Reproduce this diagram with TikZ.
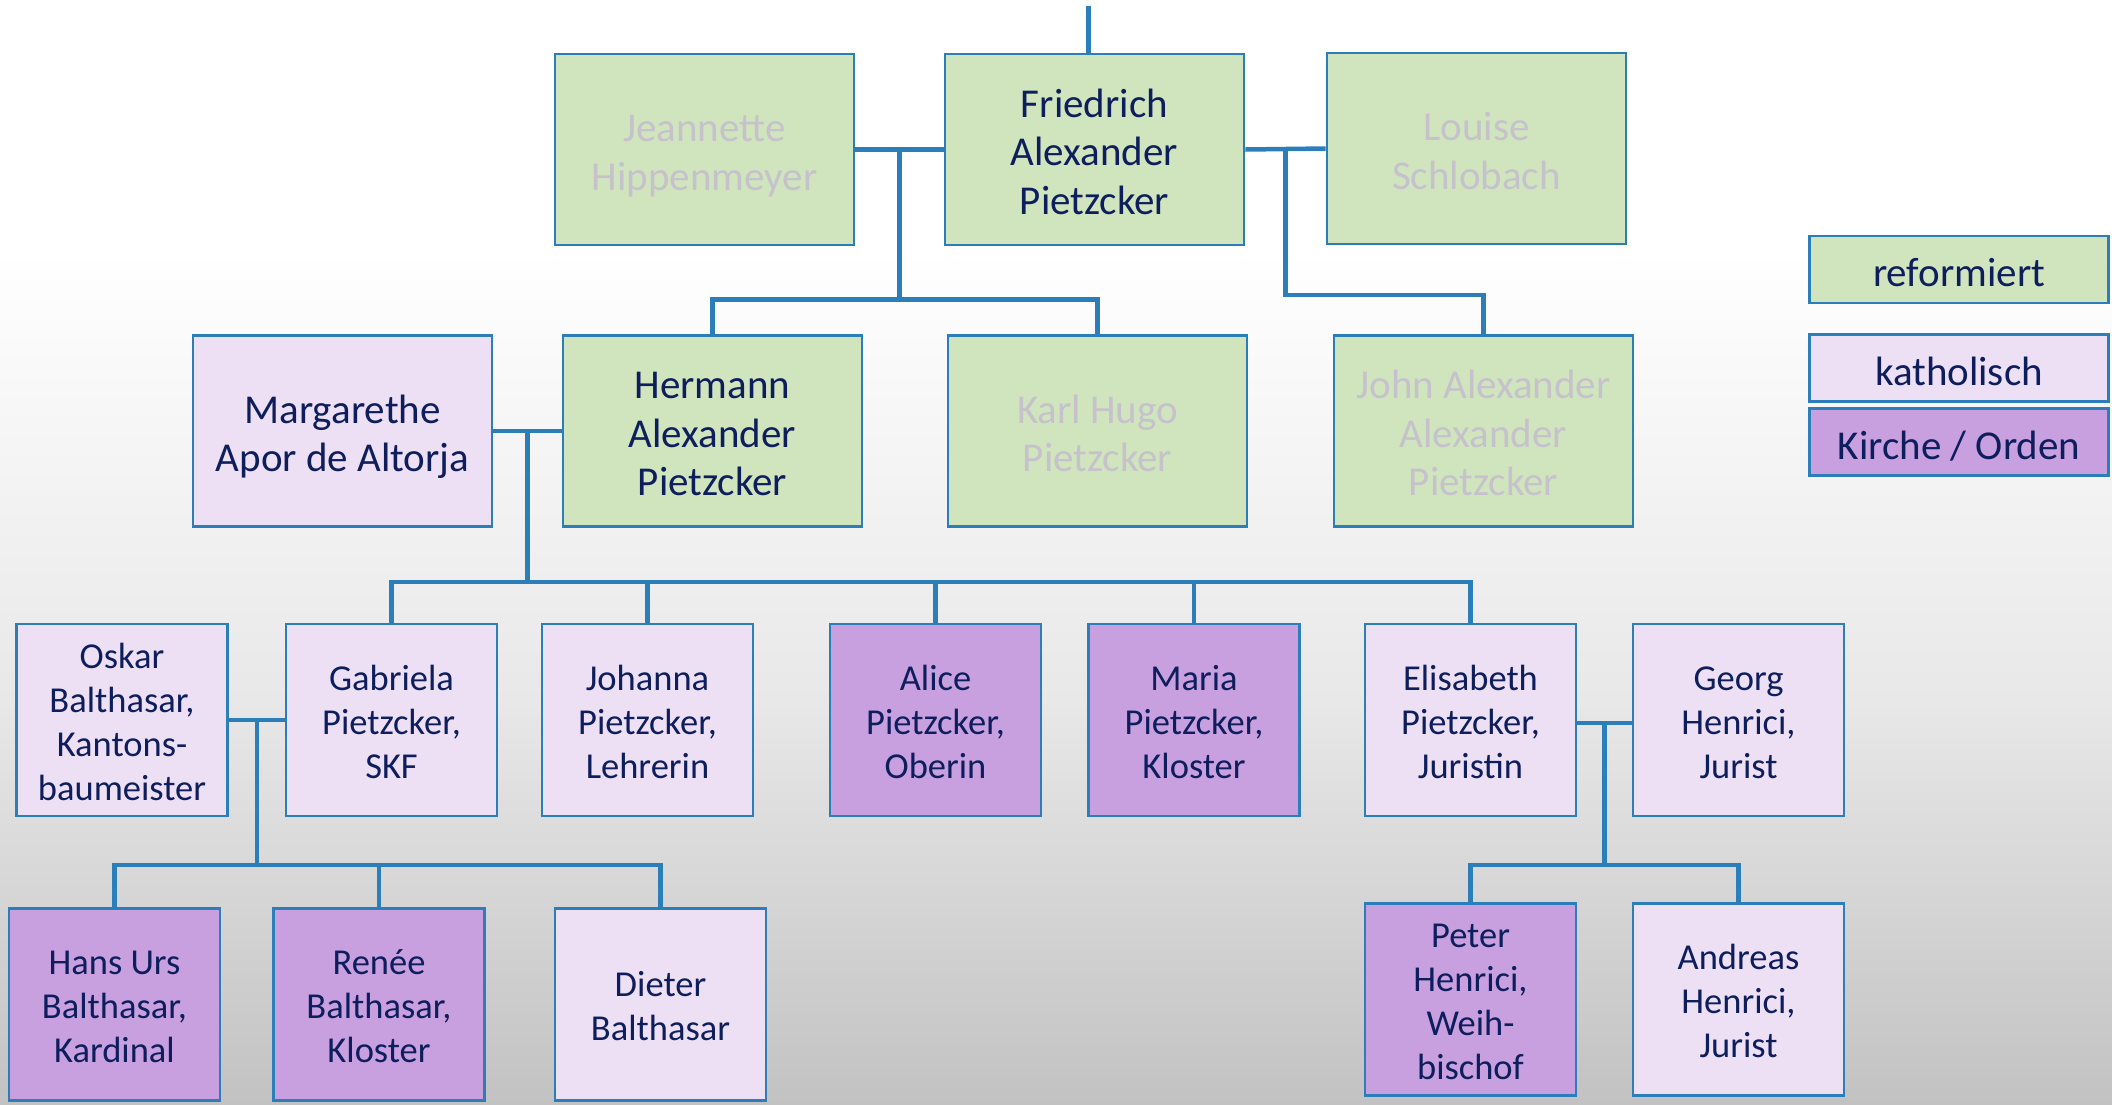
\documentclass[tikz,border=0pt]{standalone}
\usepackage{fontspec}
\setmainfont{Carlito}
\usetikzlibrary{calc}
\definecolor{navy}{RGB}{14,30,92}
\definecolor{fadegrey}{RGB}{198,194,204}
\definecolor{bord}{RGB}{44,126,186}
\definecolor{gref}{RGB}{208,228,190}
\definecolor{kath}{RGB}{237,224,245}
\definecolor{orden}{RGB}{200,160,224}
\definecolor{bgmid}{RGB}{232,232,232}
\definecolor{bgbot}{RGB}{194,194,194}
\def\firsth{34pt}
\newcommand{\stk}[1]{\begin{tabular}{@{}c@{}}\rule{0pt}{\firsth}#1\end{tabular}}
\begin{document}
\begin{tikzpicture}[x=1pt,y=-1pt,
  box/.style={draw=bord, line width=2.6pt, inner sep=0pt, text=navy},
  big/.style={box, minimum width=299pt, minimum height=191pt,
    font={\fontsize{41}{48.5}\selectfont\def\firsth{47.4pt}}},
  small/.style={box, minimum width=211pt, minimum height=192pt,
    font={\fontsize{36.5}{44}\selectfont\def\firsth{41.8pt}}},
  legend/.style={box, minimum width=299pt, minimum height=67pt,
    font={\fontsize{41}{48}\selectfont\def\firsth{49pt}}},
  ref/.style={fill=gref}, kat/.style={fill=kath}, ord/.style={fill=orden},
  faded/.style={text=fadegrey},
  conn/.style={draw=bord, line width=4.5pt}]
\useasboundingbox (0,0) rectangle (2112,1104);
\fill[white] (0,0) rectangle (2112,251);
\shade[top color=white, bottom color=bgmid] (0,250) rectangle (2112,701);
\shade[top color=bgmid, bottom color=bgbot] (0,700) rectangle (2112,1104);

% generation 1
\node[big,ref,faded] (J) at (704.5,149.5) {\stk{Jeannette\\Hippenmeyer}};
\node[big,ref] (F) at (1094.5,149.5) {\stk{Friedrich\\Alexander\\Pietzcker}};
\node[big,ref,faded] (L) at (1476.5,148.5) {\stk{Louise\\Schlobach}};
% generation 2
\node[big,kat] (M) at (342.5,431) {\stk{Margarethe\\Apor de Altorja}};
\node[big,ref] (H) at (712.5,431) {\stk{Hermann\\Alexander\\Pietzcker}};
\node[big,ref,faded] (K) at (1097.5,431) {\stk{Karl Hugo\\Pietzcker}};
\node[big,ref,faded] (Jo) at (1483.5,431) {\stk{John Alexander\\Alexander\\Pietzcker}};
% generation 3
\node[small,kat] (O) at (122,720) {\stk{Oskar\\Balthasar,\\Kantons-\\baumeister}};
\node[small,kat] (G) at (391.5,720) {\stk{Gabriela\\Pietzcker,\\SKF}};
\node[small,kat] (Jh) at (647.5,720) {\stk{Johanna\\Pietzcker,\\Lehrerin}};
\node[small,ord] (A) at (935.5,720) {\stk{Alice\\Pietzcker,\\Oberin}};
\node[small,ord] (Ma) at (1194,720) {\stk{Maria\\Pietzcker,\\Kloster}};
\node[small,kat] (E) at (1470.5,720) {\stk{Elisabeth\\Pietzcker,\\Juristin}};
\node[small,kat] (Ge) at (1738.5,720) {\stk{Georg\\Henrici,\\Jurist}};
% generation 4
\node[small,ord] (Hn) at (114.5,1004.5) {\stk{Hans Urs\\Balthasar,\\Kardinal}};
\node[small,ord] (R) at (379,1004.5) {\stk{Renée\\Balthasar,\\Kloster}};
\node[small,kat] (D) at (660.5,1004.5) {\stk{Dieter\\Balthasar}};
\node[small,ord] (P) at (1470.5,999.5) {\stk{Peter\\Henrici,\\Weih-\\bischof}};
\node[small,kat] (An) at (1738.5,999.5) {\stk{Andreas\\Henrici,\\Jurist}};
% legend
\node[legend,ref] (Lr) at (1959,269.5) {\stk{reformiert}};
\node[legend,kat] (Lk) at (1959,368) {\stk{katholisch}};
\node[legend,ord] (Lo) at (1959,442) {\stk{Kirche / Orden}};

% connectors
\coordinate (top) at ($(F.north)+(-6,-47)$);
\draw[conn] (F.north -| top) -- (top);

\draw[conn] (J.east) -- (F.west);
\coordinate (jf) at ($(J.east)!0.5!(F.west)$);
\draw[conn] (jf) -- ++(0,150) coordinate (b1);
\draw[conn] (H.north) |- (b1) -| (K.north);

\draw[conn] (F.east) -- (L.west);
\coordinate (fl) at ($(F.east)!0.5!(L.west)$);
\draw[conn] (fl) -- ++(0,146) -| (Jo.north);

\draw[conn] (M.east) -- (H.west);
\coordinate (mh) at ($(M.east)!0.5!(H.west)$);
\draw[conn] (mh) -- ++(0,151) coordinate (b2);
\draw[conn] (G.north) |- (b2) -| (E.north);
\draw[conn] (Jh.north) -- (Jh.north |- b2);
\draw[conn] (A.north) -- (A.north |- b2);
\draw[conn] (Ma.north) -- (Ma.north |- b2);

\draw[conn] (O.east) -- (G.west);
\coordinate (og) at ($(O.east)!0.5!(G.west)$);
\draw[conn] (og) -- ++(0,145) coordinate (b3);
\draw[conn] (Hn.north) |- (b3) -| (D.north);
\draw[conn] (R.north) -- (R.north |- b3);

\draw[conn] ($(E.east)+(0,3)$) coordinate (e3) -- (e3 -| Ge.west);
\coordinate (eg) at ($(E.east)!0.5!(Ge.west)+(0,3)$);
\draw[conn] (eg) -- ++(0,142) coordinate (b4);
\draw[conn] (P.north) |- (b4) -| (An.north);
\end{tikzpicture}
\end{document}
